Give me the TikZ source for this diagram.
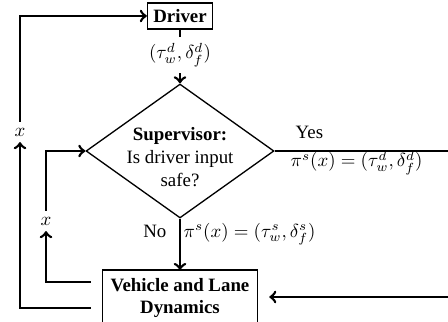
\documentclass[tikz,border=0pt]{standalone}
\usepackage[no-math]{fontspec}
\setmainfont{Liberation Serif}
\usetikzlibrary{shapes.geometric,calc}
\begin{document}
\begin{tikzpicture}[x=0.53pt,y=-0.53pt,
  thk/.style={line width=1.4pt},
  arr/.style={thk,->},
  box/.style={draw,line width=0.7pt,font=\bfseries,align=center},
  lbl/.style={fill=white,inner sep=3pt}]
\useasboundingbox (0,0) rectangle (448,322);
\clip (0,0) rectangle (448,322);
% nodes
\node[box,minimum width=34.4pt,minimum height=13.8pt,inner sep=0pt] (driver) at (180,16) {Driver};
\node[diamond,draw,line width=0.7pt,minimum width=99.6pt,minimum height=71pt,inner sep=0pt] (sup) at (180,151) {};
\node[align=center] (suptext) at (180,157) {\textbf{Supervisor:}\\Is driver input\\safe?};
\node[box,minimum width=82pt,minimum height=29.7pt,outer xsep=6.3pt,outer ysep=0pt] (veh) at (180,298) {Vehicle and Lane\\Dynamics};
% coordinates
\coordinate (yin) at (0,282);
\coordinate (yout) at (0,308);
\coordinate (yret) at (0,297);
\coordinate (roff) at (470,151);
% driver -> supervisor
\draw[arr] (driver.south) -- node[lbl,pos=0.47] (dlab) {$(\tau^d_w,\delta^d_f)$} (sup.north);
% supervisor -> vehicle (No)
\draw[arr] (sup.south) -- (veh.north);
\node[anchor=base east] (no) at (173,237) {No};
\node[anchor=base west] (pis) at (177,237) {$\pi^s(x) = (\tau^s_w,\delta^s_f)$};
% Yes branch
\draw[arr] (sup.east) -- (roff) |- (veh.east |- yret);
\node[anchor=base west] (yes) at (289,138) {Yes};
\node[anchor=base west] (pid) at (284,167) {$\pi^s(x) = (\tau^d_w,\delta^d_f)$};
% inner feedback
\node[lbl] (xin) at (46,221) {$x$};
\draw[arr] (veh.west |- yin) -| (xin.south);
\draw[arr] (xin.north) |- (sup.west);
% outer feedback
\node[lbl] (xout) at (20,132) {$x$};
\draw[arr] (veh.west |- yout) -| (xout.south);
\draw[arr] (xout.north) |- (driver.west);
\end{tikzpicture}
\end{document}
